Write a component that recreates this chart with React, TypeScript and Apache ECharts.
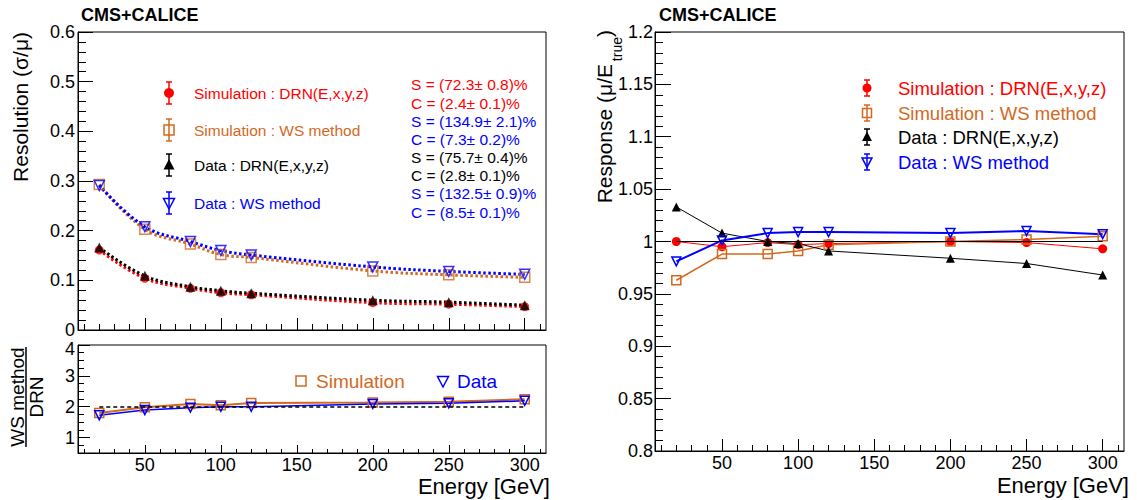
import React, { useEffect, useRef } from "react";
import * as echarts from "echarts";

// ---------------- data ----------------
const energies = [20, 50, 80, 100, 120, 200, 250, 300];

// Resolution (sigma/mu)
const resSimDRN = [0.161, 0.104, 0.084, 0.075, 0.071, 0.055, 0.052, 0.047];
const resDataDRN = [0.166, 0.109, 0.087, 0.079, 0.074, 0.06, 0.056, 0.05];
const resSimWS = [0.293, 0.203, 0.173, 0.152, 0.146, 0.119, 0.111, 0.106];
const resDataWS = [0.291, 0.208, 0.178, 0.16, 0.151, 0.127, 0.118, 0.112];

// Ratio WS method / DRN
const ratioSim = [1.8, 1.98, 2.09, 2.05, 2.12, 2.14, 2.16, 2.24];
const ratioData = [1.72, 1.89, 1.97, 2.0, 2.0, 2.09, 2.11, 2.19];
const ratioReference = 2;

// Response (mu/E_true)
const respSimDRN = [1.0, 0.995, 0.999, 0.997, 0.998, 1.0, 0.999, 0.993];
const respSimWS = [0.963, 0.988, 0.988, 0.991, 0.997, 1.0, 1.002, 1.005];
const respDataDRN = [1.033, 1.008, 1.0, 0.998, 0.991, 0.984, 0.979, 0.968];
const respDataWS = [0.981, 1.001, 1.008, 1.009, 1.009, 1.008, 1.01, 1.007];
const responseReference = 1;

// ticks
const xMajorTicks = [50, 100, 150, 200, 250, 300];
const xMinorTicks = [10, 20, 30, 40, 60, 70, 80, 90, 110, 120, 130, 140, 160, 170, 180, 190, 210, 220, 230, 240, 260, 270, 280, 290, 310];
const ratioMajorTicks = [1, 2, 3, 4];
const ratioAxisLabels = [1, 2, 3];
const ratioTopLabel = "4";
const ratioMinorTicks = [0.75, 1.25, 1.5, 1.75, 2.25, 2.5, 2.75, 3.25, 3.5, 3.75];

// labels
const legendLabels = ["Simulation : DRN(E,x,y,z)", "Simulation : WS method", "Data : DRN(E,x,y,z)", "Data : WS method"];
const ratioLegendLabels = ["Simulation", "Data"];
const fitParamTexts = [
  "S = (72.3± 0.8)%",
  "C = (2.4± 0.1)%",
  "S = (134.9± 2.1)%",
  "C = (7.3± 0.2)%",
  "S = (75.7± 0.4)%",
  "C = (2.8± 0.1)%",
  "S = (132.5± 0.9)%",
  "C = (8.5± 0.1)%",
];

// ---------------- style ----------------
const RED = "#ff0000";
const ORANGE = "#d2691e";
const BLACK = "#000000";
const BLUE = "#0000ff";
const FONT = '"Liberation Sans", Arial, Helvetica, sans-serif';
const fitParamColors = [RED, RED, BLUE, BLUE, BLACK, BLACK, BLUE, BLUE];
const legendColors = [RED, ORANGE, BLACK, BLUE];
const legendKinds = ["circle", "square", "tri", "itri"];

const pts = (ys: number[]) => energies.map((e, i) => [e, ys[i]]);

function marker(kind: string, x: number, y: number, color: string, s: number): any {
  if (kind === "circle") return { type: "circle", shape: { cx: x, cy: y, r: s / 2 }, style: { fill: color } };
  if (kind === "square")
    return { type: "rect", shape: { x: x - s / 2, y: y - s / 2, width: s, height: s }, style: { fill: "none", stroke: color, lineWidth: 1.5 } };
  if (kind === "tri")
    return { type: "polygon", shape: { points: [[x, y - s * 0.6], [x - s * 0.55, y + s * 0.45], [x + s * 0.55, y + s * 0.45]] }, style: { fill: color } };
  return {
    type: "polygon",
    shape: { points: [[x, y + s * 0.6], [x - s * 0.55, y - s * 0.45], [x + s * 0.55, y - s * 0.45]] },
    style: { fill: "none", stroke: color, lineWidth: 1.5 },
  };
}

function errBar(x: number, y: number, half: number, color: string): any[] {
  const st = { stroke: color, lineWidth: 1.5 };
  return [
    { type: "line", shape: { x1: x, y1: y - half, x2: x, y2: y + half }, style: st },
    { type: "line", shape: { x1: x - 3, y1: y - half, x2: x + 3, y2: y - half }, style: st },
    { type: "line", shape: { x1: x - 3, y1: y + half, x2: x + 3, y2: y + half }, style: st },
  ];
}

function txt(text: string, x: number, y: number, size: number, color: string, opts: any = {}): any {
  return {
    type: "text",
    x,
    y,
    rotation: opts.rotation || 0,
    style: {
      text,
      fill: color,
      font: `${opts.bold ? "bold " : ""}${size}px ${FONT}`,
      lineHeight: opts.lineHeight || Math.round(size * 1.05),
      align: opts.align || "left",
      textAlign: opts.align || "left",
      verticalAlign: "middle",
      textVerticalAlign: "middle",
    },
  };
}

function xAxes(grid: number, showLabels: boolean, majorLen: number, minorLen: number): any[] {
  return [
    {
      type: "value",
      gridIndex: grid,
      position: "bottom",
      min: 6,
      max: 314,
      axisLine: { show: true, onZero: false, lineStyle: { color: BLACK, width: 1 } },
      axisTick: { show: true, inside: true, length: majorLen, customValues: xMajorTicks, lineStyle: { color: BLACK, width: 1 } },
      axisLabel: { show: showLabels, customValues: xMajorTicks, margin: 4, lineHeight: 16, fontFamily: FONT, fontSize: 18, color: BLACK },
      splitLine: { show: false },
    },
    {
      type: "value",
      gridIndex: grid,
      position: "bottom",
      min: 6,
      max: 314,
      axisLine: { show: false, onZero: false },
      axisTick: { show: true, inside: true, length: minorLen, customValues: xMinorTicks, lineStyle: { color: BLACK, width: 1 } },
      axisLabel: { show: false },
      splitLine: { show: false },
    },
  ];
}

const lineFit = (ys: number[], color: string) => ({
  type: "line",
  xAxisIndex: 0,
  yAxisIndex: 0,
  data: pts(ys),
  smooth: 0.4,
  showSymbol: false,
  symbol: "none",
  lineStyle: { color, width: 3, type: [2.5, 2.5] },
  z: 2,
  silent: true,
});

const scatterPts = (ys: number[], symbol: string, color: string, filled: boolean, size: number, rotate = 0) => ({
  type: "scatter",
  xAxisIndex: 0,
  yAxisIndex: 0,
  data: pts(ys),
  symbol,
  symbolSize: size,
  symbolRotate: rotate,
  itemStyle: filled ? { color } : { color: "rgba(255,255,255,0)", borderColor: color, borderWidth: 1.5 },
  z: 4,
});

const connLine = (xi: number, yi: number, ys: number[], symbol: string, color: string, filled: boolean, width: number, size: number, rotate = 0, extra: any = {}) => ({
  type: "line",
  xAxisIndex: xi,
  yAxisIndex: yi,
  data: pts(ys),
  symbol,
  symbolSize: size,
  symbolRotate: rotate,
  showSymbol: true,
  lineStyle: { color, width },
  itemStyle: filled ? { color } : { color: "rgba(255,255,255,0)", borderColor: color, borderWidth: 1.5 },
  z: 4,
  ...extra,
});

export default function App() {
  const ref = useRef<HTMLDivElement>(null);
  useEffect(() => {
    if (!ref.current) return;
    const chart = echarts.init(ref.current, null, { renderer: "svg" });

    const graphic: any[] = [];
    // headers
    graphic.push(txt("CMS+CALICE", 81, 15, 18, BLACK, { bold: true }));
    graphic.push(txt("CMS+CALICE", 659, 15, 18, BLACK, { bold: true }));
    // axis titles
    graphic.push(txt("Resolution (σ/μ)", 20, 32, 21, BLACK, { align: "right", rotation: Math.PI / 2 }));
    graphic.push(txt("WS method", 17, 397, 19, BLACK, { align: "center", rotation: Math.PI / 2, lineHeight: 16 }));
    graphic.push({ type: "line", shape: { x1: 26, y1: 347, x2: 26, y2: 447 }, style: { stroke: BLACK, lineWidth: 1.5 } });
    graphic.push(txt("DRN", 36, 397, 19, BLACK, { align: "center", rotation: Math.PI / 2, lineHeight: 16 }));
    graphic.push(txt("Response (μ/E", 604, 64, 21, BLACK, { align: "right", rotation: Math.PI / 2 }));
    graphic.push(txt("true", 617, 37, 14, BLACK, { align: "right", rotation: Math.PI / 2 }));
    graphic.push(txt(")", 604, 30, 21, BLACK, { align: "right", rotation: Math.PI / 2 }));
    graphic.push(txt("Energy [GeV]", 550, 486, 22, BLACK, { align: "right", lineHeight: 18 }));
    graphic.push(txt("Energy [GeV]", 1129, 485, 22, BLACK, { align: "right", lineHeight: 18 }));
    // top label of the ratio axis, sitting slightly below its tick as in the reference
    graphic.push(txt(ratioTopLabel, 75, 349, 18, BLACK, { align: "right", lineHeight: 13 }));

    // left legend
    const leftYs = [93, 130, 165, 203];
    legendLabels.forEach((lab, i) => {
      graphic.push(...errBar(169, leftYs[i], 11, legendColors[i]));
      graphic.push(marker(legendKinds[i], 169, leftYs[i], legendColors[i], 10));
      graphic.push(txt(lab, 194, leftYs[i], 15.5, legendColors[i]));
    });
    // fit parameters
    const fitYs = [84, 103, 121, 139, 157, 175, 193, 212];
    fitParamTexts.forEach((t, i) => graphic.push(txt(t, 411, fitYs[i], 15.5, fitParamColors[i], { lineHeight: 15 })));

    // right legend
    const rightYs = [88, 113, 137, 162];
    legendLabels.forEach((lab, i) => {
      graphic.push(...errBar(867, rightYs[i], 8, legendColors[i]));
      graphic.push(marker(legendKinds[i], 867, rightYs[i], legendColors[i], 9));
      graphic.push(txt(lab, 898, rightYs[i], 18.5, legendColors[i]));
    });

    // ratio legend
    graphic.push(marker("square", 301, 381, ORANGE, 10));
    graphic.push(txt(ratioLegendLabels[0], 316, 381, 19, ORANGE));
    graphic.push(marker("itri", 443, 381, BLUE, 10));
    graphic.push(txt(ratioLegendLabels[1], 457, 381, 19, BLUE));

    const gridBase = { show: true, borderColor: BLACK, borderWidth: 1, backgroundColor: "transparent", containLabel: false };

    const option: any = {
      animation: false,
      backgroundColor: "#ffffff",
      textStyle: { fontFamily: FONT },
      grid: [
        { ...gridBase, left: 78, top: 32, width: 468, height: 298 },
        { ...gridBase, left: 78, top: 345, width: 468, height: 108 },
        { ...gridBase, left: 655, top: 32, width: 469, height: 419 },
      ],
      xAxis: [...xAxes(0, false, 12, 6), ...xAxes(1, true, 8, 4), ...xAxes(2, true, 12, 6)],
      yAxis: [
        {
          type: "value",
          gridIndex: 0,
          position: "left",
          min: 0,
          max: 0.6,
          interval: 0.1,
          axisLine: { show: true, onZero: false, lineStyle: { color: BLACK } },
          axisTick: { show: true, inside: true, length: 15, lineStyle: { color: BLACK } },
          minorTick: { show: true, splitNumber: 5, length: 8, lineStyle: { color: BLACK } },
          axisLabel: { margin: 3, lineHeight: 13, fontFamily: FONT, fontSize: 18, color: BLACK },
          splitLine: { show: false },
        },
        {
          type: "value",
          gridIndex: 1,
          position: "left",
          min: 0.5,
          max: 4,
          axisLine: { show: true, onZero: false, lineStyle: { color: BLACK } },
          axisTick: { show: true, inside: true, length: 12, customValues: ratioMajorTicks, lineStyle: { color: BLACK } },
          axisLabel: { customValues: ratioAxisLabels, margin: 3, lineHeight: 13, fontFamily: FONT, fontSize: 18, color: BLACK },
          splitLine: { show: false },
        },
        {
          type: "value",
          gridIndex: 1,
          position: "left",
          min: 0.5,
          max: 4,
          axisLine: { show: false, onZero: false },
          axisTick: { show: true, inside: true, length: 6, customValues: ratioMinorTicks, lineStyle: { color: BLACK } },
          axisLabel: { show: false },
          splitLine: { show: false },
        },
        {
          type: "value",
          gridIndex: 2,
          position: "left",
          min: 0.8,
          max: 1.2,
          interval: 0.05,
          axisLine: { show: true, onZero: false, lineStyle: { color: BLACK } },
          axisTick: { show: true, inside: true, length: 16, lineStyle: { color: BLACK } },
          minorTick: { show: true, splitNumber: 5, length: 8, lineStyle: { color: BLACK } },
          axisLabel: { margin: 2, fontFamily: FONT, fontSize: 18, color: BLACK },
          splitLine: { show: false },
        },
      ],
      series: [
        // resolution fits (dotted)
        lineFit(resSimWS, ORANGE),
        lineFit(resDataWS, BLUE),
        lineFit(resSimDRN, RED),
        lineFit(resDataDRN, BLACK),
        // resolution points
        scatterPts(resSimWS, "rect", ORANGE, false, 10),
        scatterPts(resDataWS, "triangle", BLUE, false, 10, 180),
        scatterPts(resSimDRN, "circle", RED, true, 9),
        scatterPts(resDataDRN, "triangle", BLACK, true, 10),
        // ratio
        connLine(2, 1, ratioSim, "rect", ORANGE, false, 2, 9, 0, {
          markLine: {
            silent: true,
            symbol: "none",
            label: { show: false },
            lineStyle: { color: BLACK, width: 1.5, type: [4, 3] },
            data: [[{ coord: [energies[0], ratioReference] }, { coord: [energies[energies.length - 1], ratioReference] }]],
          },
        }),
        connLine(2, 1, ratioData, "triangle", BLUE, false, 1.5, 9, 180),
        // response
        connLine(4, 3, respSimDRN, "circle", RED, true, 1, 9, 0, {
          markLine: {
            silent: true,
            symbol: "none",
            label: { show: false },
            lineStyle: { color: BLACK, width: 1, type: "solid" },
            data: [[{ coord: [energies[0], responseReference] }, { coord: [energies[energies.length - 1], responseReference] }]],
          },
        }),
        connLine(4, 3, respSimWS, "rect", ORANGE, false, 1.5, 9),
        connLine(4, 3, respDataDRN, "triangle", BLACK, true, 1, 9),
        connLine(4, 3, respDataWS, "triangle", BLUE, false, 2, 9, 180),
      ],
      graphic,
    };
    chart.setOption(option);
    return () => chart.dispose();
  }, []);

  return <div ref={ref} style={{ position: "absolute", left: 0, top: 0, width: 1137, height: 500 }} />;
}
